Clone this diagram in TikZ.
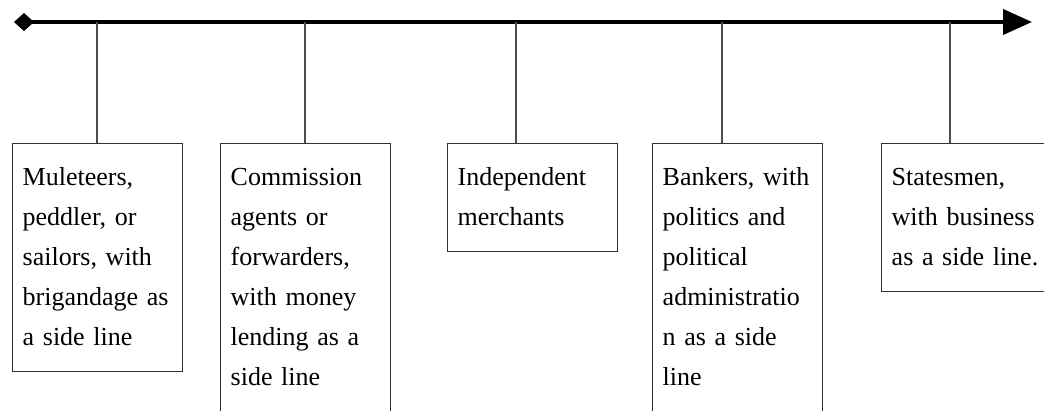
\documentclass[tikz,border=0pt]{standalone}
\usepackage{fontspec}
\setmainfont{Liberation Serif}
\usetikzlibrary{arrows.meta}
\begin{document}
\begin{tikzpicture}[x=1pt,y=-1pt,
  stage/.style={draw=black!80, line width=1.4pt, anchor=north west,
    text width=150pt, align=left, inner xsep=10pt, inner ysep=14pt,
    font=\fontsize{26}{40}\selectfont},
  drop/.style={draw=black!70, line width=1.2pt},
  timeline/.style={line width=4pt, {Diamond[length=20pt,width=18pt]}-{Triangle[length=29pt,width=25pt]}}]
\useasboundingbox (0,0) rectangle (1044,410);
\clip (0,0) rectangle (1044,410);

% timeline axis
\coordinate (start) at (14,22);
\coordinate (end) at (1032,22);
\draw[timeline] (start) -- (end);

% points where each stage hangs from the axis
\coordinate (t1) at (97,22);
\coordinate (t2) at (305,22);
\coordinate (t3) at (516,22);
\coordinate (t4) at (722,22);
\coordinate (t5) at (950,22);

% stages
\node[stage] (b1) at (12,143) {\strut Muleteers,\\ peddler, or\\ sailors, with\\ brigandage as\\ a side line\strut};
\node[stage] (b2) at (220,143) {\strut Commission\\ agents or\\ forwarders,\\ with money\\ lending as a\\ side line\strut};
\node[stage] (b3) at (447,143) {\strut Independent\\ merchants\strut};
\node[stage] (b4) at (652,143) {\strut Bankers, with\\ politics and\\ political\\ administratio\\ n as a side\\ line\strut};
\node[stage] (b5) at (881,143) {\strut Statesmen,\\ with business\\ as a side line.\strut};

% drop lines
\foreach \i in {1,...,5}
  \draw[drop] (t\i) -- (t\i |- b\i.north);
\end{tikzpicture}
\end{document}
